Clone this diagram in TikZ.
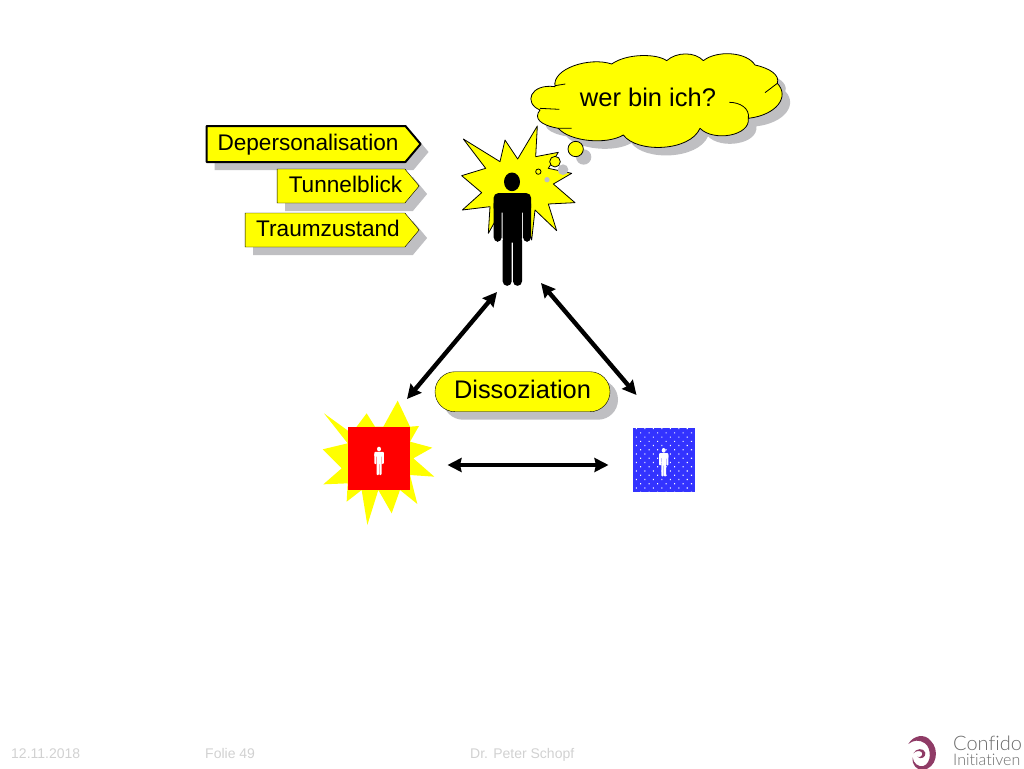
\documentclass[tikz,border=0pt]{standalone}
\usepackage{fontspec}
\setmainfont{Liberation Sans}
\newfontfamily\logofont[Ligatures=NoCommon]{Lato Light}
\usetikzlibrary{shapes.symbols,shapes.misc,shadows,arrows.meta,patterns.meta}
\definecolor{tagc}{rgb}{1,1,0}
\definecolor{shadowc}{rgb}{0.75,0.75,0.76}
\definecolor{redc}{rgb}{1,0,0}
\definecolor{bluec}{rgb}{0.2,0.2,1}
\definecolor{footc}{rgb}{0.82,0.82,0.82}
\definecolor{logoc}{rgb}{0.56,0.23,0.40}
\definecolor{logotextc}{rgb}{0.42,0.42,0.42}
\newcommand{\cloudpath}{(300,210) .. controls (250,190) and (270,130) .. (345,140)
  .. controls (335,85) and (450,50) .. (515,72)
  .. controls (560,40) and (650,40) .. (680,62)
  .. controls (710,35) and (765,35) .. (790,62)
  .. controls (830,30) and (920,35) .. (945,75)
  .. controls (990,85) and (1020,105) .. (1012,130)
  .. controls (1050,170) and (1010,225) .. (925,235)
  .. controls (932,288) and (820,306) .. (780,265)
  .. controls (750,335) and (590,340) .. (550,285)
  .. controls (500,315) and (390,305) .. (355,265)
  .. controls (300,255) and (280,235) .. (300,210) -- cycle}
\begin{document}
\begin{tikzpicture}[x=1pt, y=-1pt, line join=round,
  tagbox/.style={signal, signal to=east, signal pointer angle=100, draw, fill=tagc, inner xsep=0pt, inner ysep=0pt, text height=16.2pt, text depth=4pt, font=\fontsize{22.6}{24}\selectfont, drop shadow={shadow xshift=8pt, shadow yshift=-8pt, fill=shadowc, opacity=1}},
  dblarrow/.style={{Stealth[length=14pt,width=14pt,inset=1.5pt]}-{Stealth[length=14pt,width=14pt,inset=1.5pt]}, line width=4.4pt},
  footnode/.style={text=footc, font=\fontsize{14}{16}\selectfont, anchor=base west, inner sep=0pt},
  man/.pic={
    \path[pic actions] (0,28) ellipse [x radius=24, y radius=28];
    \path[pic actions] (-55,62) rectangle (57,120);
    \path[pic actions] (-55,80) rectangle (-31,208);
    \path[pic actions] (33,80) rectangle (57,208);
    \path[pic actions] (-28,70) rectangle (30,210);
    \path[pic actions] (-28,190) rectangle (-1,340);
    \path[pic actions] (3,190) rectangle (30,340);
  }]

  \useasboundingbox (0,0) rectangle (1024,768);

  % burst and cloud
  \begin{scope}[shift={(440,40)}, scale=1/3]
    \draw[fill=tagc, line width=0.8pt] (292,258) -- (287,350) -- (355,337) -- (325,385) -- (395,400) -- (340,432) -- (405,488) -- (325,492) -- (350,572) -- (285,510) -- (275,600) -- (245,500) -- (190,500) -- (145,580) -- (150,500) -- (67,510) -- (125,458) -- (65,407) -- (137,385) -- (70,297) -- (180,365) -- (195,300) -- (233,357) -- cycle;
    \fill[shadowc, shift={(24,24)}] \cloudpath;
    \draw[fill=tagc, line width=0.8pt] \cloudpath;
    \draw[line width=0.8pt] (345,137) -- (376,132) (358,208) -- (300,205) (1012,130) -- (975,158) (868,187) .. controls (900,187) and (930,205) .. (925,235) (355,265) -- (395,265);
    \fill[shadowc] (431,351) circle (23) (369,389) circle (16) (321,419) circle (8);
    \draw[fill=tagc, line width=0.8pt] (407,327) circle (23) (345,365) circle (16) (295,395) circle (8);
  \end{scope}
  \pic[fill=black, rounded corners=4.5pt] at (512,172.5) [scale=1/3] {man};
  \node[font=\fontsize{25.5}{27}\selectfont] (who) at (648,97) {wer bin ich?};

  % tags
  \node[tagbox, line width=2pt, minimum width=214pt, minimum height=36pt] (depers) at (306,144) {\hspace*{4pt}Depersonalisation};
  \node[tagbox, minimum width=142pt, minimum height=34pt] (tunnel) at (341,186) {\hspace*{9pt}Tunnelblick};
  \node[tagbox, minimum width=174pt, minimum height=34pt] (traum) at (325,230) {\hspace*{6pt}Traumzustand};

  % red side
  \begin{scope}[shift={(310,360)}, scale=1/3]
    \fill[tagc] (263,122) -- (300,200) -- (327,198) -- (300,245) -- (367,263) -- (310,295) -- (373,350) -- (300,345) -- (322,432) -- (270,390) -- (245,460) -- (205,390) -- (172,495) -- (155,390) -- (110,425) -- (113,370) -- (40,373) -- (95,325) -- (38,268) -- (113,250) -- (42,160) -- (125,220) -- (170,160) -- (195,200) -- (220,200) -- cycle;
  \end{scope}
  \node[fill=redc, inner sep=0pt, minimum width=62pt, minimum height=63pt] (redbox) at (379,458.5) {};
  \node[preaction={fill=bluec}, pattern={Dots[distance=6pt, angle=45, radius=0.8pt]}, pattern color=white, inner sep=0pt, minimum width=62pt, minimum height=64pt] (bluebox) at (664,460) {};
  \pic[fill=white, rounded corners=0.8pt] at (379,446.7) [scale=1/12] {man};
  \pic[fill=white, rounded corners=0.8pt] at (663.7,448) [scale=1/12] {man};

  \node[rounded rectangle, draw, fill=tagc, inner sep=0pt, minimum width=175pt, minimum height=40pt, text height=18.2pt, text depth=4pt, font=\fontsize{25.4}{27}\selectfont, drop shadow={shadow xshift=8pt, shadow yshift=-8pt, fill=shadowc, opacity=1}] (dissoz) at (522.5,391.7) {Dissoziation};

  % arrow ends
  \node[coordinate] (manleft) at (497,292) {};
  \node[coordinate] (manright) at (541,283) {};
  \node[coordinate] (redtop) at (407,399) {};
  \node[coordinate] (bluetop) at (636.5,395) {};
  \node[coordinate] (redside) at (447.5,465) {};
  \node[coordinate] (blueside) at (608.5,465) {};

  \draw[dblarrow] (redtop) -- (manleft);
  \draw[dblarrow] (bluetop) -- (manright);
  \draw[dblarrow] (redside) -- (blueside);

  % footer
  \node[footnode] (date) at (11,758) {12.11.2018};
  \node[footnode] (folie) at (205,758) {Folie 49};
  \node[footnode] (doctor) at (470,758) {Dr. Peter Schopf};

  % logo
  \begin{scope}[shift={(880,720)}, scale=1/3]
    \fill[logoc] (85,72) .. controls (100,45) and (135,40) .. (152,62) .. controls (180,90) and (170,145) .. (128,150) .. controls (110,150) and (95,135) .. (98,112) .. controls (100,130) and (115,142) .. (130,138) .. controls (155,130) and (155,85) .. (135,70) .. controls (118,58) and (100,60) .. (85,72) -- cycle;
    \fill[logoc] (100,100) .. controls (108,85) and (130,82) .. (136,98) .. controls (138,112) and (122,120) .. (112,110) .. controls (118,114) and (130,108) .. (126,98) .. controls (120,90) and (108,92) .. (100,100) -- cycle;
  \end{scope}
  \node[text=logotextc, font=\logofont\fontsize{20}{22}\selectfont, anchor=west, inner sep=0pt] (confido) at (953,743) {Confido};
  \node[text=logotextc, font=\logofont\fontsize{16}{17}\selectfont, anchor=west, inner sep=0pt] (initiativen) at (953,760) {Initiativen};

\end{tikzpicture}
\end{document}
